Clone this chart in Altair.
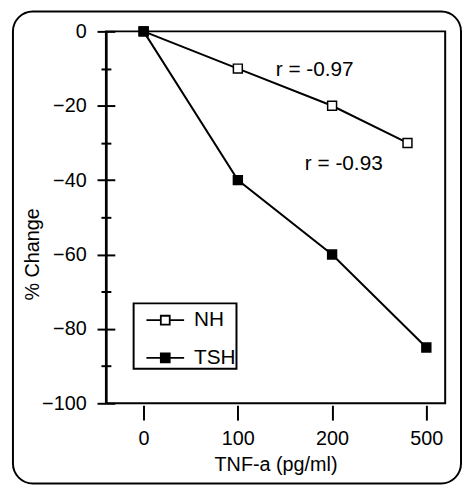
import altair as alt
import pandas as pd

# ---- data ----
series_names = ["NH", "TSH"]
tick_labels = ["0", "100", "200", "500"]
tick_positions = [0, 1, 2, 3]
nh_x = [0, 1, 2, 2.8]
nh_y = [0, -10, -20, -30]
tsh_x = [0, 1, 2, 3]
tsh_y = [0, -40, -60, -85]
major_ticks = [0, -20, -40, -60, -80, -100]
minor_ticks = [-10, -30, -50, -70, -90]
ann_text = ["r = -0.97", "r = -0.93"]
ann_x = [1.815, 2.124]
ann_y = [-10.4, -35.8]

df = pd.DataFrame({
    "x": nh_x + tsh_x,
    "y": nh_y + tsh_y,
    "series": ["NH"] * len(nh_x) + ["TSH"] * len(tsh_x),
})
ann = pd.DataFrame({"x": ann_x, "y": ann_y, "t": ann_text})

FONT = "Liberation Sans"
W, H = 343, 376
xdom = [-0.4, 3.2]
ydom = [-100, 0]

label_expr = "[" + ",".join(f"'{t}'" for t in tick_labels) + "][datum.value]"
x_axis = alt.Axis(values=tick_positions, labelExpr=label_expr, orient="bottom",
                  domain=False, grid=False, ticks=True, tickSize=15, tickWidth=2,
                  tickColor="black", offset=2, labelFontSize=20, labelPadding=9,
                  labelColor="black", labelFont=FONT,
                  title="TNF-a (pg/ml)", titleFontSize=20, titleFont=FONT,
                  titleFontWeight="normal", titleColor="black",
                  titleBaseline="alphabetic", titleX=W / 2, titleY=66,
                  titleAlign="center")
x_enc = alt.X("x:Q", scale=alt.Scale(domain=xdom, nice=False, zero=False), axis=x_axis)

def yscale():
    return alt.Scale(domain=ydom, nice=False, zero=False)

y_main_axis = alt.Axis(values=major_ticks, orient="left", grid=False,
                       domain=True, domainColor="black", domainWidth=2.5,
                       ticks=True, tickSize=9, tickWidth=2, tickColor="black",
                       labelFontSize=20, labelFont=FONT, labelColor="black",
                       labelPadding=11,
                       title="% Change", titleFontSize=20, titleFont=FONT,
                       titleFontWeight="normal", titleColor="black",
                       titleAngle=270, titleX=-74, titleY=225,
                       titleAlign="center", titleBaseline="middle")

lines = alt.Chart(df).mark_line(color="black", strokeWidth=2).encode(
    x=x_enc,
    y=alt.Y("y:Q", scale=yscale(), axis=y_main_axis),
    detail="series:N",
)

legend_path = "M-1.27,0H-0.3M0.3,0H1.27M-0.3,-0.3H0.3V0.3H-0.3Z"
points = alt.Chart(df).mark_point(shape="square", filled=True, stroke="black",
                                  strokeWidth=1.5, opacity=1, size=81).encode(
    x=x_enc,
    y=alt.Y("y:Q", scale=yscale(), axis=None),
    fill=alt.Fill("series:N",
                  scale=alt.Scale(domain=series_names, range=["white", "black"]),
                  legend=alt.Legend(title=None, orient="none", legendX=28, legendY=275,
                                    symbolType=legend_path, symbolSize=900,
                                    symbolStrokeColor="black", symbolStrokeWidth=1.8,
                                    symbolOffset=15, labelOffset=13, rowPadding=12,
                                    padding=1, strokeColor="black",
                                    labelFontSize=21, labelFont=FONT,
                                    labelColor="black")),
)

texts = alt.Chart(ann).mark_text(fontSize=21, font=FONT, color="black",
                                 align="center", baseline="middle").encode(
    x=x_enc,
    y=alt.Y("y:Q", scale=yscale(), axis=None),
    text="t:N",
)

tick_df_major = pd.DataFrame({"v": major_ticks})
tick_df_minor = pd.DataFrame({"v": minor_ticks})

inner_major = alt.Chart(tick_df_major).mark_point(opacity=0, size=1).encode(
    x=x_enc,
    y=alt.Y("v:Q", scale=yscale(),
            axis=alt.Axis(values=major_ticks, orient="left", offset=-9, grid=False,
                          domain=False, labels=False, title=None, ticks=True,
                          tickSize=9, tickWidth=2, tickColor="black")),
)
minor = alt.Chart(tick_df_minor).mark_point(opacity=0, size=1).encode(
    x=x_enc,
    y=alt.Y("v:Q", scale=yscale(),
            axis=alt.Axis(values=minor_ticks, orient="left", offset=-5, grid=False,
                          domain=False, labels=False, title=None, ticks=True,
                          tickSize=10, tickWidth=2, tickColor="black")),
)

border = alt.Chart(pd.DataFrame({"a": [0]})).mark_rect(
    fillOpacity=0, stroke="black", strokeWidth=2, cornerRadius=20).encode(
    x=alt.value(-94), x2=alt.value(359), y=alt.value(-20), y2=alt.value(457))

chart = alt.layer(lines, points, texts, inner_major, minor, border).resolve_scale(
    y="independent"
).properties(
    width=W, height=H,
    autosize=alt.AutoSizeParams(type="none"),
    padding={"left": 99, "top": 21, "right": 17, "bottom": 82},
    background="white",
).configure_view(stroke="black", strokeWidth=2).configure_legend(strokeWidth=2)

chart.save("out.html", embed_options={"renderer": "svg", "actions": False})
